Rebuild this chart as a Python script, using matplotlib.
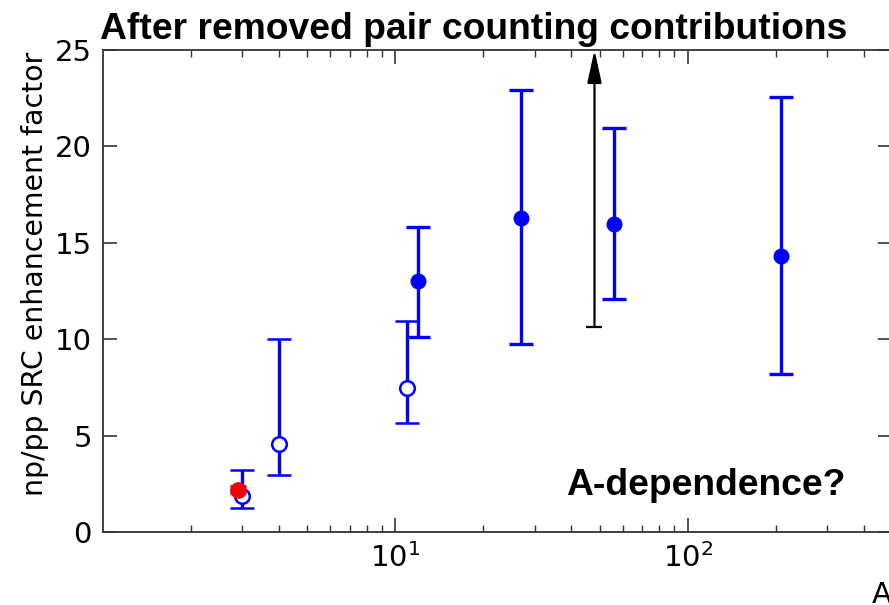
import matplotlib
matplotlib.use("Agg")
import matplotlib.pyplot as plt
from matplotlib.ticker import LogLocator, NullFormatter, MultipleLocator, FixedLocator

# Data
open_A = [3.0, 4.0, 11.0]
open_val = [1.85, 4.55, 7.45]
open_lo = [1.26, 2.94, 5.64]
open_hi = [3.22, 10.0, 10.95]

fill_A = [12.0, 27.0, 56.0, 208.0]
fill_val = [13.0, 16.3, 15.97, 14.3]
fill_lo = [10.1, 9.75, 12.07, 8.2]
fill_hi = [15.8, 22.9, 20.97, 22.58]

red_A = [2.9]
red_val = [2.2]
red_err = [0.2]

limit_A = [48.0]
limit_low = [10.65]
limit_top = [25.0]

x_major_ticks = [10, 100]

W, H = 889, 605
fig = plt.figure(figsize=(W / 100, H / 100), dpi=100)
ax = fig.add_axes([103 / W, 73 / H, (892 - 103) / W, (532 - 50) / H])

blue = '#0000ff'
ax.errorbar(open_A, open_val,
            yerr=[[v - l for v, l in zip(open_val, open_lo)],
                  [h - v for v, h in zip(open_val, open_hi)]],
            fmt='o', color=blue, mfc='white', mec=blue, mew=1.8, ms=10.5,
            elinewidth=2.4, capsize=8.5, capthick=2.4, zorder=3)
ax.errorbar(fill_A, fill_val,
            yerr=[[v - l for v, l in zip(fill_val, fill_lo)],
                  [h - v for v, h in zip(fill_val, fill_hi)]],
            fmt='o', color=blue, ms=10.5,
            elinewidth=2.4, capsize=8.5, capthick=2.4, zorder=3)
ax.errorbar(red_A, red_val, yerr=red_err, fmt='o', color='#ee0000', ms=11,
            elinewidth=2.0, capsize=6, capthick=2.0, zorder=4)

# lower limit arrow
for a, lo, top in zip(limit_A, limit_low, limit_top):
    ax.annotate('', xy=(a, top), xytext=(a, lo),
                arrowprops=dict(arrowstyle='-|>,head_width=0.22,head_length=1.0',
                                color='black', lw=1.6, mutation_scale=20,
                                shrinkA=0, shrinkB=0), zorder=3)
ax.plot(limit_A, limit_low, marker='_', color='black', ms=12, mew=1.6, ls='none')

ax.set_xscale('log')
ax.set_xlim(1, 500)
ax.set_ylim(0, 25)
ax.yaxis.set_major_locator(MultipleLocator(5))
ax.xaxis.set_major_locator(FixedLocator(x_major_ticks))
ax.xaxis.set_minor_locator(LogLocator(base=10, subs=range(2, 10)))
ax.xaxis.set_minor_formatter(NullFormatter())

for s in ax.spines.values():
    s.set_linewidth(1.3)
    s.set_color('#333333')

ax.tick_params(which='both', direction='in', top=True, right=True,
               color='#333333')
ax.tick_params(which='major', length=10, width=1.2, labelsize=21, pad=8)
ax.tick_params(which='minor', length=5, width=1.0)

ax.set_ylabel('np/pp SRC enhancement factor', fontsize=20.4)
ax.yaxis.set_label_coords(-0.068, 0.535)
ax.set_xlabel('A', fontsize=21, loc='right', labelpad=6)

fig.text(100 / W, 1 - 39 / H, 'After removed pair counting contributions',
         fontsize=26.8, fontweight='bold', family='Liberation Sans',
         ha='left', va='baseline')
ax.text(845, H - 495, 'A-dependence?', transform=None,
        fontsize=26.8, fontweight='bold', family='Liberation Sans',
        ha='right', va='baseline')

fig.savefig('out.png', dpi=100)
